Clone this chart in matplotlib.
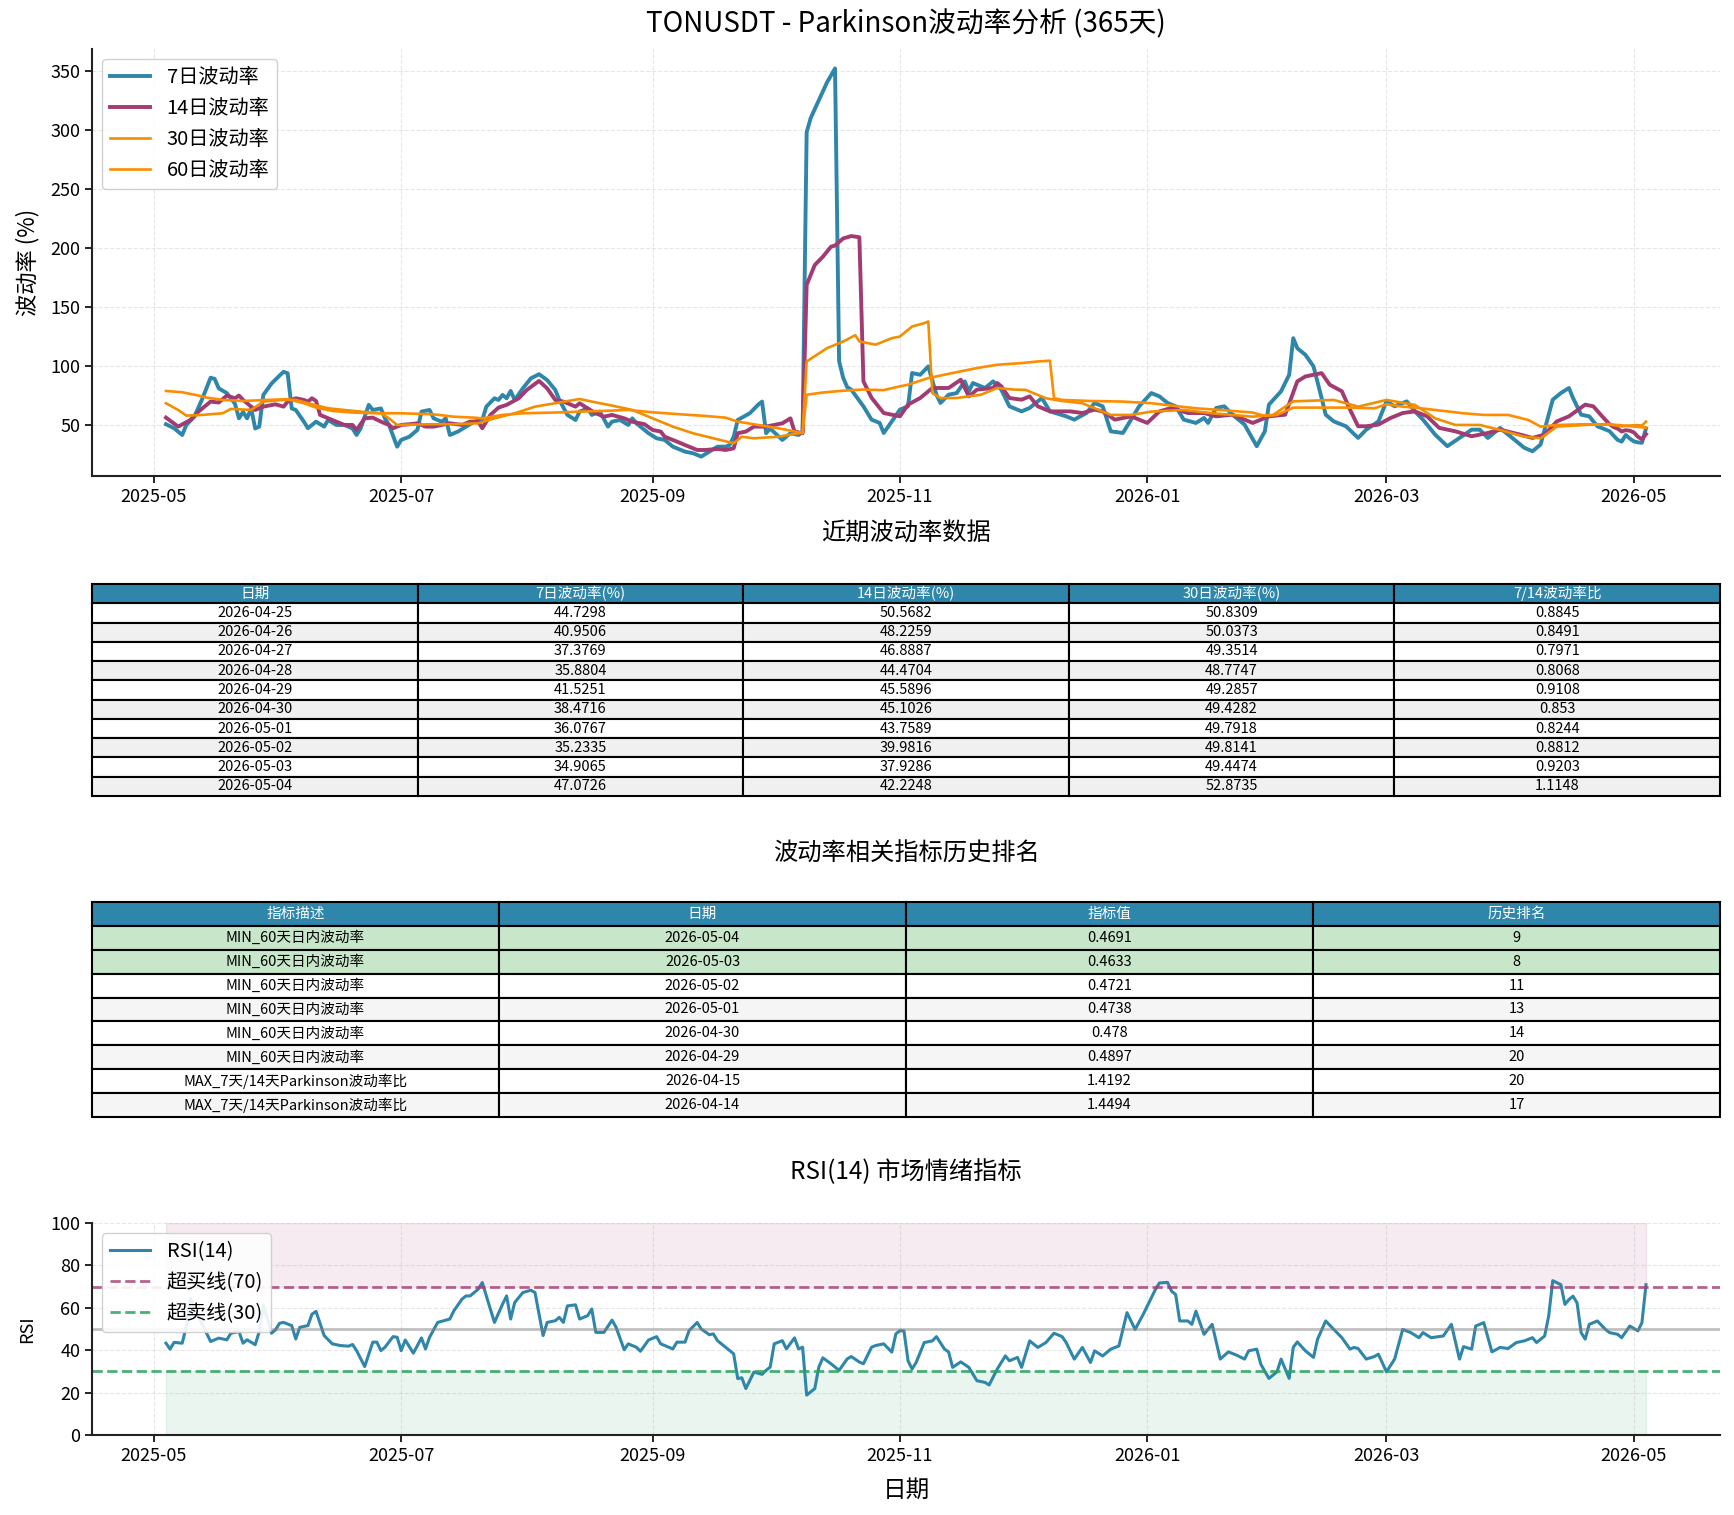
import numpy as np
import pandas as pd
import matplotlib
matplotlib.use('Agg')
import matplotlib.pyplot as plt
import matplotlib.dates as mdates

plt.rcParams['font.family'] = ['Noto Sans CJK SC', 'DejaVu Sans']
plt.rcParams['axes.unicode_minus'] = False

START = pd.Timestamp('2025-05-01')

# 7日波动率 (天数偏移, 数值)
vol7_day = [3, 5, 7, 8, 10, 12, 14, 15, 16, 18, 20, 21, 22, 23, 24, 25, 26, 27, 29, 31,
            32, 33, 34, 35, 37, 38, 40, 42, 43, 45, 47, 49, 50, 51, 53, 54, 56, 57, 58, 60,
            61, 63, 65, 66, 68, 69, 71, 72, 73, 75, 77, 79, 81, 82, 84, 85, 86, 87, 88, 89,
            91, 93, 95, 97, 99, 100, 102, 104, 105, 107, 108, 110, 112, 113, 115, 117, 118, 119, 120, 122,
            124, 126, 128, 130, 131, 133, 135, 137, 139, 141, 142, 143, 144, 147, 149, 150, 151, 152, 155, 157,
            159, 160, 161, 162, 164, 166, 168, 169, 170, 171, 172, 175, 177, 179, 180, 182, 184, 186, 187, 189,
            191, 193, 194, 196, 198, 200, 201, 202, 205, 207, 209, 211, 214, 216, 219, 221, 225, 227, 230, 232,
            234, 236, 239, 241, 243, 246, 248, 250, 252, 254, 257, 259, 260, 262, 264, 266, 269, 272, 274, 275,
            278, 280, 281, 282, 284, 286, 288, 289, 291, 294, 297, 299, 302, 304, 306, 309, 311, 313, 316, 319,
            322, 325, 327, 329, 332, 335, 338, 340, 342, 345, 347, 349, 350, 352, 354, 356, 359, 360, 361, 362,
            363, 364, 365, 366, 367, 368]
vol7_val = [50.6, 47.2, 41.5, 50.0, 57.0, 72.6, 90.0, 89.0, 81.0, 77.0, 68.0, 55.6, 61.0, 55.6, 64.0, 47.0, 48.6, 75.4, 85.0, 91.8,
            95.0, 93.8, 64.0, 62.7, 52.8, 47.2, 52.8, 48.6, 54.2, 50.0, 50.0, 47.0, 41.5, 47.0, 67.0, 62.7, 64.0, 55.6, 50.0, 31.6,
            37.3, 40.0, 45.8, 61.3, 62.7, 55.6, 52.8, 55.6, 41.5, 44.4, 48.6, 52.8, 54.2, 65.5, 72.6, 71.2, 75.4, 72.6, 78.8, 71.2,
            81.0, 89.5, 93.0, 88.0, 79.7, 71.2, 58.5, 54.2, 61.3, 64.0, 58.5, 61.3, 48.6, 52.8, 54.2, 50.0, 55.6, 51.4, 48.6, 43.0,
            38.7, 37.3, 31.6, 28.8, 27.4, 26.0, 23.2, 27.4, 31.6, 31.6, 33.0, 40.0, 54.2, 60.0, 67.0, 69.8, 43.0, 47.0, 37.3, 43.0,
            41.5, 44.4, 298.0, 310.0, 325.0, 340.0, 352.0, 104.0, 90.0, 82.0, 79.9, 65.8, 54.5, 51.7, 43.2, 53.0, 63.0, 65.8, 94.0, 92.5,
            99.6, 75.6, 68.6, 75.6, 77.0, 86.9, 78.5, 85.5, 81.3, 86.9, 79.9, 65.8, 61.5, 64.4, 72.8, 61.5, 57.3, 54.5, 60.1, 68.6,
            65.8, 44.6, 43.2, 54.5, 65.8, 77.0, 74.2, 68.6, 65.8, 54.5, 51.7, 55.9, 51.7, 64.4, 65.8, 58.7, 50.3, 32.0, 44.6, 67.2,
            78.5, 92.5, 123.5, 115.0, 109.4, 99.6, 72.8, 58.7, 53.0, 48.9, 39.0, 46.0, 53.0, 70.0, 65.8, 70.0, 61.5, 54.5, 41.8, 32.0,
            39.0, 46.0, 46.0, 39.0, 47.5, 39.0, 30.6, 27.7, 33.4, 71.4, 77.0, 81.3, 72.8, 58.7, 57.3, 48.9, 44.7298, 40.9506, 37.3769, 35.8804,
            41.5251, 38.4716, 36.0767, 35.2335, 34.9065, 47.0726]

# 14日波动率
vol14_day = [3, 6, 9, 11, 14, 16, 18, 20, 21, 22, 24, 25, 27, 30, 32, 33, 35, 37, 38, 39,
             40, 41, 43, 45, 47, 49, 50, 52, 54, 56, 58, 59, 61, 63, 65, 67, 69, 71, 73, 76,
             78, 80, 81, 83, 85, 87, 90, 92, 95, 97, 99, 101, 104, 105, 107, 109, 111, 113, 116, 118,
             121, 123, 125, 126, 129, 131, 134, 136, 139, 141, 143, 144, 146, 148, 151, 153, 155, 157, 158, 160,
             161, 163, 165, 167, 168, 170, 172, 174, 175, 177, 180, 184, 186, 189, 192, 196, 199, 201, 203, 207,
             208, 209, 211, 214, 216, 218, 221, 226, 229, 232, 234, 237, 241, 245, 248, 251, 255, 259, 262, 266,
             271, 275, 279, 282, 284, 288, 290, 293, 295, 297, 299, 302, 305, 308, 311, 314, 317, 321, 325, 329,
             332, 337, 340, 343, 346, 349, 353, 355, 357, 359, 360, 361, 362, 363, 364, 365, 366, 367, 368]
vol14_val = [56.2, 48.6, 54.2, 61.3, 69.8, 69.0, 74.9, 72.6, 74.9, 71.2, 65.5, 62.7, 65.5, 67.5, 65.5, 69.8, 72.6, 71.2, 69.8, 72.6,
             70.3, 58.5, 55.6, 52.8, 50.0, 50.0, 45.8, 55.6, 56.2, 52.8, 50.0, 47.2, 50.0, 50.6, 51.4, 48.6, 48.6, 50.0, 51.4, 50.0,
             52.8, 52.8, 47.2, 58.5, 64.7, 67.0, 72.6, 79.7, 87.3, 81.0, 71.2, 69.8, 65.5, 68.4, 64.0, 59.9, 57.0, 58.5, 55.6, 52.8,
             50.6, 45.8, 44.4, 40.0, 35.9, 33.0, 28.8, 28.8, 29.7, 28.8, 30.2, 43.0, 44.4, 48.6, 48.6, 50.0, 51.4, 55.6, 44.4, 43.0,
             168.6, 185.5, 192.5, 201.0, 202.0, 208.0, 210.0, 209.0, 87.0, 73.0, 60.1, 57.3, 67.2, 72.8, 81.3, 81.3, 88.3, 74.2, 79.9, 81.3,
             85.5, 82.7, 72.8, 71.4, 74.2, 65.8, 61.5, 61.5, 60.1, 63.0, 61.5, 54.5, 57.3, 51.7, 61.5, 64.4, 60.1, 60.1, 57.3, 58.7,
             51.7, 57.3, 58.7, 86.9, 91.1, 93.9, 84.1, 78.5, 63.0, 48.9, 48.9, 50.3, 55.9, 60.1, 61.5, 57.3, 47.5, 44.6, 40.4, 43.2,
             46.0, 41.8, 39.0, 41.8, 53.0, 57.3, 67.2, 65.8, 58.0, 50.5682, 48.2259, 46.8887, 44.4704, 45.5896, 45.1026, 43.7589, 39.9816, 37.9286, 42.2248]

# 30日波动率
vol30_day = [3, 6, 8, 12, 17, 19, 24, 27, 32, 35, 39, 43, 47, 51, 56, 58, 60, 68, 74, 80,
             84, 89, 94, 99, 105, 108, 113, 118, 123, 128, 133, 138, 142, 143, 145, 148, 154, 159, 160, 161,
             166, 170, 173, 174, 178, 182, 184, 187, 190, 191, 192, 194, 198, 204, 208, 212, 215, 220, 224, 229,
             236, 241, 246, 254, 261, 271, 276, 281, 291, 297, 304, 311, 316, 321, 327, 332, 338, 342, 346, 353,
             359, 360, 361, 362, 363, 364, 365, 366, 367, 368]
vol30_val = [68.4, 62.7, 57.9, 58.5, 59.9, 63.6, 62.7, 69.8, 71.2, 71.2, 67.5, 64.1, 62.7, 61.3, 59.9, 55.6, 50.0, 50.6, 50.6, 51.4,
             55.6, 59.9, 65.5, 68.4, 72.0, 69.8, 66.4, 62.7, 55.6, 48.6, 42.9, 38.7, 35.3, 34.5, 40.0, 38.7, 40.0, 43.0, 43.8, 103.8,
             115.0, 120.7, 126.0, 120.7, 118.0, 123.5, 124.9, 133.4, 136.2, 137.6, 77.0, 72.8, 72.8, 75.6, 81.3, 80.0, 79.7, 72.6, 70.3, 68.4,
             58.5, 58.5, 61.3, 62.7, 59.9, 57.0, 58.5, 70.0, 71.2, 65.5, 71.2, 67.0, 55.6, 50.0, 50.0, 45.8, 40.0, 38.7, 48.6, 50.0,
             50.8309, 50.0373, 49.3514, 48.7747, 49.2857, 49.4282, 49.7918, 49.8141, 49.4474, 52.8735]

# 60日波动率
vol60_day = [3, 7, 11, 13, 17, 22, 28, 33, 37, 40, 44, 49, 55, 61, 69, 74, 79, 81, 86, 91,
             99, 105, 111, 117, 123, 130, 136, 141, 144, 149, 154, 159, 160, 161, 165, 170, 175, 180, 184, 186,
             191, 197, 203, 208, 214, 218, 221, 222, 224, 231, 239, 246, 251, 257, 263, 271, 274, 277, 281, 288,
             295, 301, 304, 308, 311, 316, 323, 328, 334, 339, 342, 346, 353, 361, 368]
vol60_val = [78.8, 77.7, 74.9, 73.2, 71.2, 70.3, 71.2, 71.8, 68.4, 64.7, 61.9, 60.5, 59.9, 59.9, 59.0, 57.0, 56.2, 55.6, 58.5, 59.9,
             60.5, 61.3, 61.9, 62.7, 60.7, 59.0, 57.6, 56.2, 52.8, 50.0, 47.2, 43.8, 43.0, 75.6, 77.5, 79.0, 80.0, 79.5, 82.7, 84.1,
             89.7, 94.0, 98.2, 101.0, 102.4, 103.8, 104.4, 72.6, 71.2, 70.3, 69.8, 68.4, 66.4, 64.1, 62.7, 60.5, 57.6, 58.5, 64.7, 64.7,
             64.7, 64.1, 67.5, 65.5, 64.7, 62.7, 59.9, 58.5, 58.5, 54.2, 48.6, 50.0, 50.6, 50.0, 47.7]

# RSI(14)
rsi_day = [3, 4, 5, 7, 8, 9, 11, 13, 14, 16, 18, 19, 21, 22, 23, 25, 26, 27, 29, 30,
           31, 32, 34, 35, 36, 38, 39, 40, 42, 44, 46, 48, 49, 50, 52, 54, 55, 56, 57, 59,
           60, 61, 62, 64, 66, 67, 68, 70, 72, 73, 74, 76, 77, 78, 80, 81, 83, 84, 86, 87,
           88, 89, 91, 93, 94, 96, 97, 99, 100, 101, 102, 104, 105, 107, 108, 109, 111, 113, 114, 116,
           117, 119, 120, 122, 124, 125, 127, 128, 129, 131, 132, 134, 135, 137, 138, 139, 141, 143, 144, 145,
           146, 148, 150, 151, 152, 153, 155, 156, 158, 159, 160, 161, 163, 164, 165, 167, 169, 171, 172, 174,
           175, 177, 178, 180, 182, 183, 184, 185, 186, 187, 188, 190, 192, 193, 195, 196, 197, 199, 201, 203,
           205, 206, 208, 210, 211, 213, 214, 216, 218, 220, 222, 224, 225, 227, 229, 231, 232, 234, 236, 238,
           239, 240, 242, 244, 245, 247, 248, 250, 251, 252, 253, 255, 256, 257, 259, 261, 263, 265, 267, 269,
           270, 272, 273, 275, 277, 278, 280, 281, 282, 284, 286, 287, 289, 291, 293, 295, 296, 297, 299, 301,
           302, 304, 306, 308, 310, 312, 313, 315, 318, 320, 322, 323, 325, 326, 328, 330, 332, 334, 336, 338,
           340, 341, 343, 344, 345, 347, 348, 349, 350, 351, 352, 353, 354, 356, 358, 359, 361, 362, 364, 366,
           367, 368]
rsi_val = [43.3, 40.5, 43.7, 43.3, 51.2, 64.5, 55.9, 48.0, 44.1, 45.7, 44.9, 48.0, 48.8, 43.3, 44.9, 42.6, 48.8, 61.3, 48.0, 49.6,
           52.7, 53.1, 51.6, 45.3, 50.8, 51.6, 57.0, 58.3, 46.9, 43.0, 42.2, 41.9, 42.7, 39.8, 32.3, 43.8, 43.8, 39.8, 41.4, 46.4,
           46.1, 39.8, 44.8, 38.6, 45.8, 40.6, 46.1, 53.1, 54.2, 54.7, 58.6, 64.1, 65.6, 65.6, 68.8, 71.9, 59.4, 53.1, 61.7, 65.6,
           54.7, 62.5, 67.2, 68.3, 67.2, 46.9, 53.1, 53.9, 55.5, 53.1, 60.9, 61.4, 54.7, 56.3, 59.4, 48.4, 48.4, 54.2, 50.8, 40.2,
           43.0, 41.4, 39.5, 44.8, 46.4, 43.0, 41.4, 40.6, 43.8, 43.8, 49.2, 53.1, 50.0, 47.3, 47.7, 44.5, 41.4, 38.3, 26.6, 27.0,
           21.9, 29.7, 28.6, 30.5, 32.0, 43.0, 44.5, 40.6, 45.8, 40.6, 41.4, 18.8, 21.9, 32.0, 36.4, 33.6, 30.5, 35.9, 37.0, 34.4,
           33.6, 41.4, 42.2, 43.0, 39.1, 47.7, 49.2, 49.1, 35.0, 31.1, 34.2, 43.6, 44.4, 46.4, 40.5, 39.2, 31.9, 34.5, 31.9, 25.6,
           24.8, 23.6, 31.1, 37.3, 35.0, 36.6, 31.9, 44.4, 41.3, 43.6, 48.0, 46.4, 43.6, 35.8, 41.3, 34.2, 39.7, 37.3, 40.5, 42.0,
           49.8, 57.7, 49.8, 56.9, 60.8, 68.6, 71.7, 72.0, 67.8, 66.3, 53.8, 53.8, 52.2, 58.4, 47.5, 52.2, 35.8, 39.2, 37.7, 35.8,
           39.7, 40.5, 33.4, 26.7, 29.8, 35.8, 26.7, 41.3, 43.9, 39.7, 36.6, 45.2, 53.8, 49.8, 45.9, 40.5, 41.3, 40.8, 35.8, 37.0,
           38.1, 29.8, 35.8, 49.8, 48.3, 45.9, 48.3, 45.9, 46.7, 52.2, 35.8, 41.7, 40.5, 51.4, 53.0, 39.2, 41.3, 40.8, 43.6, 44.4,
           45.9, 43.6, 46.7, 56.1, 72.8, 70.9, 61.6, 63.9, 65.5, 62.3, 48.3, 45.2, 52.2, 53.8, 49.8, 48.3, 47.5, 45.9, 51.4, 49.1,
           53.0, 70.9]

# 近期波动率数据表
recent_dates = ['2026-04-25', '2026-04-26', '2026-04-27', '2026-04-28', '2026-04-29',
                '2026-04-30', '2026-05-01', '2026-05-02', '2026-05-03', '2026-05-04']
recent_vol7 = [44.7298, 40.9506, 37.3769, 35.8804, 41.5251, 38.4716, 36.0767, 35.2335, 34.9065, 47.0726]
recent_vol14 = [50.5682, 48.2259, 46.8887, 44.4704, 45.5896, 45.1026, 43.7589, 39.9816, 37.9286, 42.2248]
recent_vol30 = [50.8309, 50.0373, 49.3514, 48.7747, 49.2857, 49.4282, 49.7918, 49.8141, 49.4474, 52.8735]
recent_ratio = [0.8845, 0.8491, 0.7971, 0.8068, 0.9108, 0.853, 0.8244, 0.8812, 0.9203, 1.1148]
recent_cols = ['日期', '7日波动率(%)', '14日波动率(%)', '30日波动率(%)', '7/14波动率比']

# 历史排名表
rank_desc = ['MIN_60天日内波动率'] * 6 + ['MAX_7天/14天Parkinson波动率比'] * 2
rank_dates = ['2026-05-04', '2026-05-03', '2026-05-02', '2026-05-01', '2026-04-30',
              '2026-04-29', '2026-04-15', '2026-04-14']
rank_value = [0.4691, 0.4633, 0.4721, 0.4738, 0.478, 0.4897, 1.4192, 1.4494]
rank_pos = [9, 8, 11, 13, 14, 20, 20, 17]
rank_cols = ['指标描述', '日期', '指标值', '历史排名']


def to_dates(days):
    return START + pd.to_timedelta(days, unit='D')


BLUE = '#2E86AB'
PURPLE = '#A23B72'
ORANGE = '#F18F01'
GREEN = '#2CA25F'

fig = plt.figure(figsize=(17.34, 15.15), dpi=100)
W, H = 1734.0, 1515.0


def box(l, t, r, b):
    return [l / W, 1 - b / H, (r - l) / W, (b - t) / H]


def style_axes(ax):
    ax.spines['top'].set_visible(False)
    ax.spines['right'].set_visible(False)
    for s in ['left', 'bottom']:
        ax.spines[s].set_linewidth(1.5)
        ax.spines[s].set_color('#222222')
    ax.grid(True, linestyle='--', alpha=0.3)
    ax.tick_params(labelsize=13, width=1.2, length=5)
    ax.xaxis.set_major_locator(mdates.MonthLocator(bymonth=[1, 3, 5, 7, 9, 11]))
    ax.xaxis.set_major_formatter(mdates.DateFormatter('%Y-%m'))


# 波动率曲线
ax1 = fig.add_axes(box(92, 49, 1720, 476))
ax1.plot(to_dates(vol7_day), vol7_val, color=BLUE, lw=2.8, label='7日波动率')
ax1.plot(to_dates(vol14_day), vol14_val, color=PURPLE, lw=2.8, label='14日波动率')
ax1.plot(to_dates(vol30_day), vol30_val, color=ORANGE, lw=1.9, label='30日波动率')
ax1.plot(to_dates(vol60_day), vol60_val, color='darkorange', lw=1.9, label='60日波动率')
style_axes(ax1)
ax1.set_ylabel('波动率 (%)', fontsize=16, labelpad=8)
ax1.legend(loc='upper left', fontsize=14.5, framealpha=0.9)

fig.text(906 / W, 1 - 24 / H, 'TONUSDT - Parkinson波动率分析 (365天)', fontsize=20,
         ha='center', va='center')


def draw_table(ax, rows, cols, fills):
    ax.axis('off')
    tb = ax.table(cellText=rows, colLabels=cols, cellLoc='center', loc='center',
                  bbox=[0, 0, 1, 1])
    tb.auto_set_font_size(False)
    tb.set_fontsize(10.5)
    for (r, c), cell in tb.get_celld().items():
        cell.set_linewidth(1.5)
        cell.set_edgecolor('black')
        if r == 0:
            cell.set_facecolor(BLUE)
            cell.get_text().set_color('white')
        else:
            cell.set_facecolor(fills[r - 1])
    return tb


# 近期数据表
ax_t1 = fig.add_axes(box(92, 584, 1720, 796))
rows1 = [[d, f'{a:g}', f'{b:g}', f'{c:g}', f'{e:g}'] for d, a, b, c, e in
         zip(recent_dates, recent_vol7, recent_vol14, recent_vol30, recent_ratio)]
fills1 = ['white' if i % 2 == 0 else '#f0f0f0' for i in range(len(rows1))]
draw_table(ax_t1, rows1, recent_cols, fills1)
fig.text(906 / W, 1 - 533 / H, '近期波动率数据', fontsize=17.5, ha='center', va='center')

# 历史排名表
ax_t2 = fig.add_axes(box(92, 902, 1720, 1117))
rows2 = [[a, d, f'{v:g}', str(p)] for a, d, v, p in zip(rank_desc, rank_dates, rank_value, rank_pos)]
fills2 = []
for i in range(len(rows2)):
    if i < 2:
        fills2.append('#c8e6c9')
    elif i % 2 == 0:
        fills2.append('white')
    else:
        fills2.append('#f5f5f5')
draw_table(ax_t2, rows2, rank_cols, fills2)
fig.text(906 / W, 1 - 854 / H, '波动率相关指标历史排名', fontsize=17.5, ha='center', va='center')

# RSI
ax3 = fig.add_axes(box(92, 1223, 1720, 1435))
rsi_dates = to_dates(rsi_day)
ax3.plot(rsi_dates, rsi_val, color=BLUE, lw=2.2, label='RSI(14)')
ax3.axhline(70, color=PURPLE, ls='--', lw=2, alpha=0.8, label='超买线(70)')
ax3.axhline(30, color=GREEN, ls='--', lw=2, alpha=0.85, label='超卖线(30)')
ax3.axhline(50, color='gray', lw=2, alpha=0.5)
ax3.fill_between(rsi_dates, 70, 100, color=PURPLE, alpha=0.1)
ax3.fill_between(rsi_dates, 0, 30, color=GREEN, alpha=0.1)
ax3.set_ylim(0, 100)
style_axes(ax3)
ax3.set_ylabel('RSI', fontsize=13, labelpad=10)
ax3.legend(loc='upper left', fontsize=14.5, framealpha=0.9)
fig.text(906 / W, 1 - 1172 / H, 'RSI(14) 市场情绪指标', fontsize=17.5, ha='center', va='center')
fig.text(906 / W, 1 - 1490 / H, '日期', fontsize=17, ha='center', va='center')

fig.savefig('out.png', dpi=100)
